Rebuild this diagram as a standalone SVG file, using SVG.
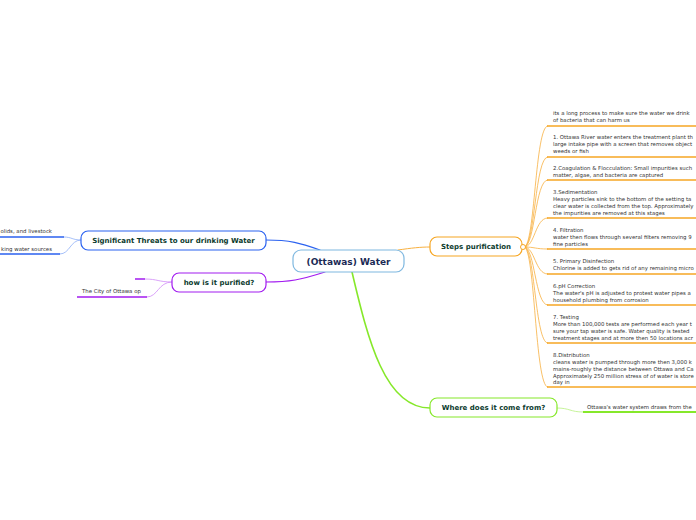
<svg xmlns="http://www.w3.org/2000/svg" width="696" height="520" viewBox="0 0 696 520">
<style>
.node{fill:#ffffff;stroke-width:1.2}
.t{font-family:"DejaVu Sans",Verdana,sans-serif;font-weight:bold;fill:#0c3b2e;text-anchor:middle}
.s{font-family:"DejaVu Sans",Verdana,sans-serif;font-size:5.4px;fill:#333333}
.c{fill:none;stroke-linecap:round}
.o{stroke:#f8b040}
.ou{stroke:#f6a623;stroke-width:1.6}
</style>
<rect width="696" height="520" fill="#ffffff"/>
<g id="connectors">
  <path class="c" d="M398 250 C412 248,420 247,430 247" stroke="#f8b040" stroke-width="1"/>
  <path class="c" d="M320 250 C300 243,290 240,266 240" stroke="#2b62f0" stroke-width="1.2"/>
  <path class="c" d="M325 272 C300 280,290 282,266 282" stroke="#a21cf0" stroke-width="1.2"/>
  <path class="c" d="M352 272 C368 340,385 408,430 408" stroke="#86e82a" stroke-width="1.6"/>
  <g class="o" fill="none" stroke-width="0.8">
    <path d="M524 247 C535 247,535 126,548 126"/>
    <path d="M524 247 C535 247,535 157,548 157"/>
    <path d="M524 247 C535 247,535 180,548 180"/>
    <path d="M524 247 C535 247,535 218,548 218"/>
    <path d="M524 247 C535 247,535 249,548 249"/>
    <path d="M524 247 C535 247,535 274,548 274"/>
    <path d="M524 247 C535 247,535 305,548 305"/>
    <path d="M524 247 C535 247,535 343,548 343"/>
    <path d="M524 247 C535 247,535 387,548 387"/>
  </g>
  <g class="ou" fill="none">
    <path d="M547 126 H696"/><path d="M547 157 H696"/><path d="M547 180 H696"/>
    <path d="M547 218 H696"/><path d="M547 249 H696"/><path d="M547 274 H696"/>
    <path d="M547 305 H696"/><path d="M547 343 H696"/><path d="M547 387 H696"/>
  </g>
  <path class="c" d="M81 240 C72 240,72 237,64 237" stroke="#8fb0f8" stroke-width="0.8"/>
  <path class="c" d="M81 240 C70 240,70 254,60 254" stroke="#8fb0f8" stroke-width="0.8"/>
  <path d="M64 237 H0 M60 254 H0" stroke="#2b62f0" stroke-width="1.6" fill="none"/>
  <path class="c" d="M172 282 C158 282,158 279,145 279" stroke="#d08cf8" stroke-width="0.8"/>
  <path class="c" d="M172 282 C158 282,158 297,147 297" stroke="#d08cf8" stroke-width="0.8"/>
  <path d="M145 279 H135 M147 297 H77" stroke="#a21cf0" stroke-width="1.6" fill="none"/>
  <path class="c" d="M557 408 C570 408,570 412,583 412" stroke="#b8f080" stroke-width="0.8"/>
  <path d="M583 412 H696" stroke="#86e82a" stroke-width="1.8" fill="none"/>
</g>
<g id="center">
  <rect class="node" x="293" y="250" width="111" height="22" rx="8" stroke="#7fb8e0"/>
  <text class="t" x="348.5" y="264.5" font-size="9" style="fill:#1b2a55">(Ottawas) Water</text>
</g>
<g id="steps">
  <rect class="node" x="430" y="237" width="92" height="19" rx="7" stroke="#f6a623"/>
  <text class="t" x="476" y="249" font-size="7">Steps purification</text>
  <circle cx="523" cy="247" r="2.5" fill="#ffffff" stroke="#f6a623" stroke-width="1"/>
</g>
<g id="threats">
  <rect class="node" x="81" y="231" width="185" height="19" rx="7" stroke="#2b62f0"/>
  <text class="t" x="173.5" y="243" font-size="7">Significant Threats to our drinking Water</text>
</g>
<g id="purified">
  <rect class="node" x="172" y="273" width="94" height="19" rx="7" stroke="#a21cf0"/>
  <text class="t" x="219" y="285" font-size="7">how is it purified?</text>
</g>
<g id="where">
  <rect class="node" x="430" y="398" width="127" height="19" rx="7" stroke="#86e82a"/>
  <text class="t" x="493.5" y="410" font-size="7">Where does it come from?</text>
</g>
<g id="steps-items" class="s">
  <text x="553" y="115">its a long process to make sure the water we drink</text>
  <text x="553" y="122">of bacteria that can harm us</text>
  <text x="553" y="139">1. Ottawa River water enters the treatment plant th</text>
  <text x="553" y="146">large intake pipe with a screen that removes object</text>
  <text x="553" y="153">weeds or fish</text>
  <text x="553" y="170">2.Coagulation &amp; Flocculation: Small impurities such</text>
  <text x="553" y="177">matter, algae, and bacteria are captured</text>
  <text x="553" y="194">3.Sedimentation</text>
  <text x="553" y="201">Heavy particles sink to the bottom of the setting ta</text>
  <text x="553" y="208">clear water is collected from the top. Approximately</text>
  <text x="553" y="215">the impurities are removed at this stages</text>
  <text x="553" y="232">4. Filtration</text>
  <text x="553" y="239">water then flows through several filters removing 9</text>
  <text x="553" y="246">fine particles</text>
  <text x="553" y="263">5. Primary Disinfection</text>
  <text x="553" y="270">Chlorine is added to gets rid of any remaining micro</text>
  <text x="553" y="288">6.pH Correction</text>
  <text x="553" y="295">The water's pH is adjusted to protest water pipes a</text>
  <text x="553" y="302">household plumbing from corrosion</text>
  <text x="553" y="319">7. Testing</text>
  <text x="553" y="326">More than 100,000 tests are performed each year t</text>
  <text x="553" y="333">sure your tap water is safe. Water quality is tested</text>
  <text x="553" y="340">treatment stages and at more then 50 locations acr</text>
  <text x="553" y="357">8.Distribution</text>
  <text x="553" y="364">cleans water is pumped through more then 3,000 k</text>
  <text x="553" y="371">mains-roughly the distance between Ottawa and Ca</text>
  <text x="553" y="378">Approximately 250 million stress of of water is store</text>
  <text x="553" y="384">day in</text>
</g>
<g id="other-items" class="s">
  <text x="52" y="233" text-anchor="end">olids, and livestock</text>
  <text x="52" y="251" text-anchor="end">king water sources</text>
  <text x="82" y="293">The City of Ottawa op</text>
  <text x="587" y="409">Ottawa's water system draws from the</text>
</g>
</svg>
